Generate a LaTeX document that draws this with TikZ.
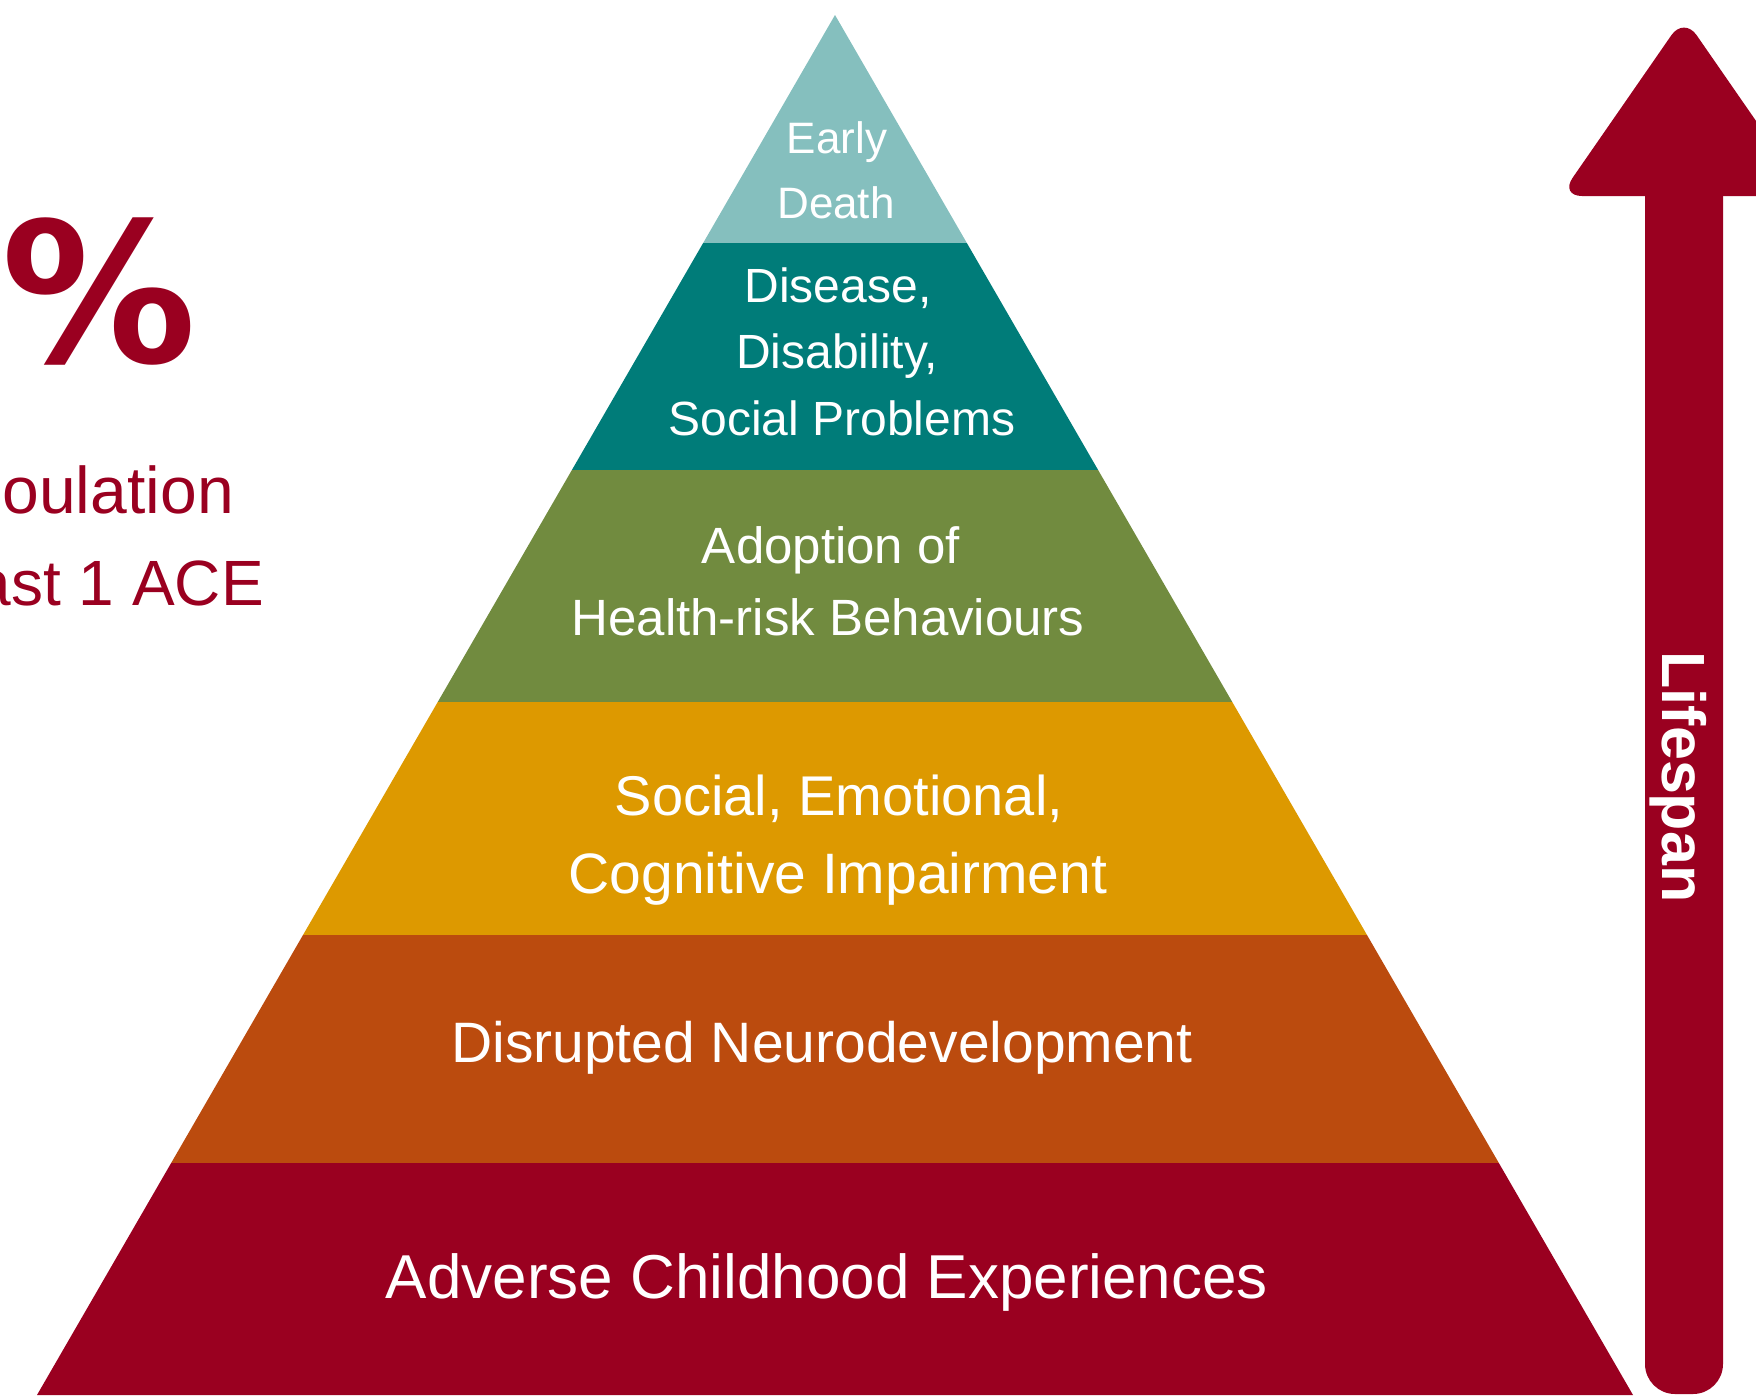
\documentclass[tikz,border=0pt]{standalone}
\usepackage{fontspec}
\setmainfont{Liberation Sans}
\newfontfamily\pctfont{DejaVu Sans}
\definecolor{acered}{HTML}{9A0020}
\definecolor{rust}{HTML}{BB4B0E}
\definecolor{gold}{HTML}{DD9900}
\definecolor{olive}{HTML}{718B3F}
\definecolor{teal}{HTML}{007C79}
\definecolor{lightteal}{HTML}{85BFBE}
\newcommand\pxsize[1]{\fontsize{#1}{#1}\selectfont}
\begin{document}
\begin{tikzpicture}[x=1pt,y=-1pt,
  lbl/.style={text=white, inner sep=0pt, anchor=base},
  redtxt/.style={text=acered, inner sep=0pt}]
\useasboundingbox (0,0) rectangle (1756,1395);
\clip (0,0) rectangle (1756,1395);

% pyramid bands
\begin{scope}
\clip (835,15) -- (1633,1395) -- (37,1395) -- cycle;
\fill[lightteal] (0,0) rectangle (1756,243);
\fill[teal] (0,243) rectangle (1756,470);
\fill[olive] (0,470) rectangle (1756,702);
\fill[gold] (0,702) rectangle (1756,935);
\fill[rust] (0,935) rectangle (1756,1163);
\fill[acered] (0,1163) rectangle (1756,1400);
\end{scope}

% band labels
\node[lbl, font=\pxsize{44}] (ed1) at (837,153) {Early};
\node[lbl, font=\pxsize{44}] (ed2) at (836,218) {Death};
\node[lbl, font=\pxsize{48}] (ds1) at (838,302) {Disease,};
\node[lbl, font=\pxsize{48}] (ds2) at (837,368) {Disability,};
\node[lbl, font=\pxsize{48}] (ds3) at (842,435) {Social Problems};
\node[lbl, font=\pxsize{51}] (ad1) at (831,563) {Adoption of};
\node[lbl, font=\pxsize{51}] (ad2) at (828,635) {Health-risk Behaviours};
\node[lbl, font=\pxsize{56}] (se1) at (839,815) {Social, Emotional,};
\node[lbl, font=\pxsize{57}] (se2) at (838,893) {Cognitive Impairment};
\node[lbl, font=\pxsize{57}] (dn) at (822,1062) {Disrupted Neurodevelopment};
\node[lbl, font=\pxsize{62}] (ace) at (827,1298) {Adverse Childhood Experiences};

% lifespan arrow
\fill[acered, rounded corners=30pt] (1645,150) -- (1645,1394) -- (1723,1394) -- (1723,150) -- cycle;
\fill[acered, rounded corners=22pt] (1684,17) -- (1808,196) -- (1560,196) -- cycle;
\node[lbl, font=\pxsize{61}\bfseries, rotate=-90] (life) at (1662,777) {Lifespan};

% left statistic (cut off by the frame)
\node[redtxt, anchor=base, font=\pctfont\bfseries\pxsize{195}] (pct) at (99,362) {\%};
\node[redtxt, anchor=base east, font=\pxsize{66}] (pop) at (234,513) {oulation};
\node[redtxt, anchor=base east, font=\pxsize{64}] (ace1) at (264,605) {ast 1 ACE};
\end{tikzpicture}
\end{document}
